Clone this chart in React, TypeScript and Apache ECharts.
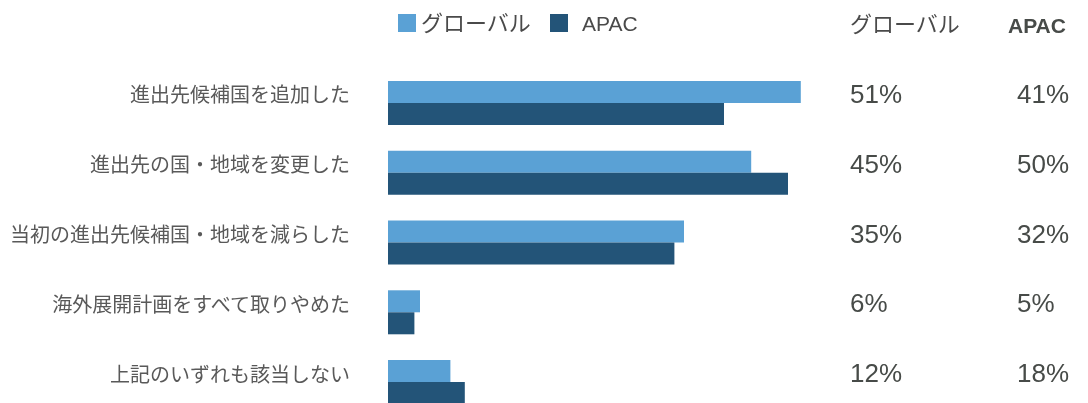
import React, { useEffect, useRef } from "react";
import * as echarts from "echarts";

const categories = [
  "進出先候補国を追加した",
  "進出先の国・地域を変更した",
  "当初の進出先候補国・地域を減らした",
  "海外展開計画をすべて取りやめた",
  "上記のいずれも該当しない",
];
const globalBars = [51.6, 45.4, 37.0, 4.0, 7.8];
const apacBars = [42.0, 50.0, 35.8, 3.3, 9.6];
const globalLabels = ["51%", "45%", "35%", "6%", "12%"];
const apacLabels = ["41%", "50%", "32%", "5%", "18%"];
const seriesNames = ["グローバル", "APAC"];

const LATIN = "'Liberation Sans', Arial, 'Noto Sans CJK JP', sans-serif";
const CJK = "'Noto Sans CJK JP', 'Liberation Sans', sans-serif";

export default function App() {
  const ref = useRef<HTMLDivElement>(null);
  useEffect(() => {
    if (!ref.current) return;
    const chart = echarts.init(ref.current, undefined, { renderer: "svg" });
    const gridLeft = 388;
    const gridWidth = 480; // 8 px per unit with max 60
    const gridRight = gridLeft + gridWidth;
    const pctAxis = (labels: string[], x: number) => ({
      type: "category" as const,
      gridIndex: 1,
      data: labels,
      inverse: true,
      position: "right" as const,
      offset: x - gridRight,
      axisLine: { show: false },
      axisTick: { show: false },
      splitLine: { show: false },
      axisLabel: {
        margin: 0,
        align: "left" as const,
        fontFamily: LATIN,
        fontSize: 26,
        color: "#474b48",
      },
    });
    chart.setOption({
      animation: false,
      legend: {
        left: 393,
        top: 7,
        itemWidth: 18,
        itemHeight: 18,
        itemGap: 19,
        icon: "rect",
        textStyle: { fontSize: 22, color: "#4a4a4a", fontFamily: LATIN },
        data: [
          { name: seriesNames[0] },
          { name: seriesNames[1], textStyle: { padding: [0, 0, 0, 9], fontSize: 21 } },
        ],
      },
      graphic: [
        {
          type: "text",
          left: 850,
          top: 13,
          style: { text: "グローバル", fontSize: 22, fill: "#4a4a4a", fontFamily: LATIN },
        },
        {
          type: "text",
          left: 1008,
          top: 15,
          style: { text: "APAC", fontSize: 21, fontWeight: "bold", fill: "#474b48", fontFamily: LATIN },
        },
      ],
      grid: [
        { left: gridLeft, top: 68, width: gridWidth, height: 349, outerBoundsMode: "none", containLabel: false },
        { left: gridLeft, top: 59, width: gridWidth, height: 349, outerBoundsMode: "none", containLabel: false },
      ],
      xAxis: [
        { type: "value", gridIndex: 0, min: 0, max: 60, show: false },
        { type: "value", gridIndex: 1, min: 0, max: 60, show: false },
      ],
      yAxis: [
        {
          type: "category",
          gridIndex: 0,
          data: categories,
          inverse: true,
          axisLine: { show: false },
          axisTick: { show: false },
          axisLabel: { show: false },
        },
        {
          type: "category",
          gridIndex: 1,
          data: categories,
          inverse: true,
          axisLine: { show: false },
          axisTick: { show: false },
          axisLabel: {
            margin: 38,
            fontFamily: CJK,
            fontSize: 20,
            color: "#595959",
          },
        },
        pctAxis(globalLabels, 850),
        pctAxis(apacLabels, 1017),
      ],
      series: [
        {
          name: seriesNames[0],
          type: "bar",
          xAxisIndex: 0,
          yAxisIndex: 0,
          data: globalBars,
          barWidth: 22,
          barGap: "0%",
          itemStyle: { color: "#5aa1d5" },
        },
        {
          name: seriesNames[1],
          type: "bar",
          xAxisIndex: 0,
          yAxisIndex: 0,
          data: apacBars,
          barWidth: 22,
          barGap: "0%",
          itemStyle: { color: "#235478" },
        },
      ],
    });
    return () => chart.dispose();
  }, []);
  return (
    <div
      ref={ref}
      style={{ position: "fixed", left: 0, top: 0, width: 1088, height: 403 }}
    />
  );
}
